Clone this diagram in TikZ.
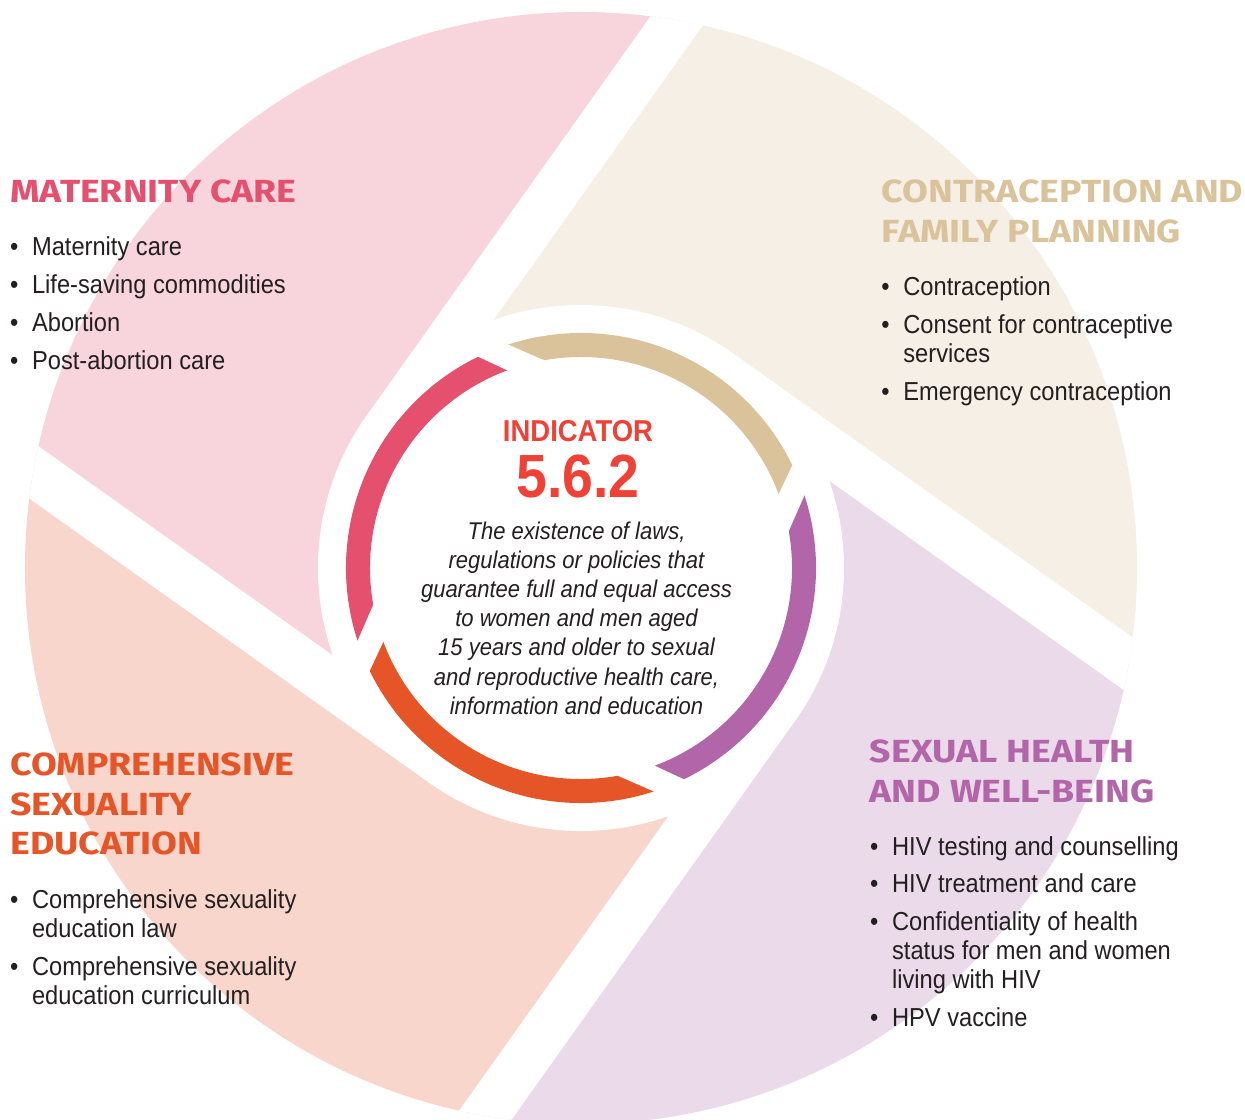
\documentclass[tikz,border=0pt]{standalone}
\usepackage{fontspec}
\setmainfont{Liberation Sans}[FakeStretch=0.91]
\newfontfamily\headfont{Fira Sans}[FakeStretch=1.17]
\usetikzlibrary{calc}
\definecolor{matpink}{HTML}{E5506F}
\definecolor{conbeige}{HTML}{DAC39A}
\definecolor{sexpurple}{HTML}{B266A9}
\definecolor{cseorange}{HTML}{E55527}
\definecolor{matlight}{HTML}{F8D4DD}
\definecolor{conlight}{HTML}{F5EFE5}
\definecolor{sexlight}{HTML}{EBDAEA}
\definecolor{cselight}{HTML}{F8D6CB}
\definecolor{indred}{HTML}{EF4136}
\definecolor{ink}{HTML}{231F20}
\newcommand{\itm}{\makebox[11pt][l]{\textbullet}}
\begin{document}
\begin{tikzpicture}[x=0.5pt,y=0.5pt,
  ttl/.style={anchor=base west,inner sep=0pt,font=\headfont\bfseries\fontsize{16}{19.75}\selectfont},
  lst/.style={anchor=base west,inner sep=0pt,text=ink,font=\fontsize{13}{14.6}\selectfont}]
\useasboundingbox (-581,-551) rectangle (664,568);
% pinwheel segments
\begin{scope}
\clip (0,0) circle[radius=556];
\foreach \a/\c in {144.6/matlight,54.6/conlight,-35.4/sexlight,-125.4/cselight}
  \fill[\c] (0,0) -- (\a:239) -- ++(\a-90:700) -- (\a-26.1:1000)
    -- ($(\a+90:239)+(\a:700)$) -- (\a+90:239) -- cycle;
\foreach \a in {144.6,54.6,-35.4,-125.4}
  \draw[white,line width=24pt] (\a:239) -- ++(\a-90:700);
\end{scope}
\fill[white] (0,0) circle[radius=263];
% inner ring
\foreach \a/\c in {0/conbeige,90/matpink,180/cseorange,270/sexpurple}
  \fill[\c] (\a+26:235) arc[start angle=\a+26,end angle=\a+108,radius=235]
    -- (\a+100:211) arc[start angle=\a+100,end angle=\a+20.5,radius=211] -- cycle;
% centre
\node[anchor=base,inner sep=0pt,text=indred,font=\bfseries\fontsize{15.1}{18}\selectfont] (ind) at (-3,127) {INDICATOR};
\node[anchor=base,inner sep=0pt,text=indred,font=\bfseries\fontsize{30.5}{34}\selectfont] (num) at (-3,70.7) {5.6.2};
\node[anchor=base,inner sep=0pt,text=ink,font=\itshape\fontsize{12.1}{14.55}\selectfont] (desc) at (-4.5,28.5)
  {\begin{tabular}[t]{@{}c@{}}The existence of laws,\\regulations or policies that\\guarantee full and equal access\\to women and men aged\\15 years and older to sexual\\and reproductive health care,\\information and education\end{tabular}};
% maternity care
\node[ttl,text=matpink] (matT) at (-571,365.3) {MATERNITY CARE};
\node[lst] (matL) at (-571.3,312) {\begin{tabular}[t]{@{}l@{}l@{}}
  \itm&Maternity care\\[4.25pt] \itm&Life-saving commodities\\[4.25pt]
  \itm&Abortion\\[4.25pt] \itm&Post-abortion care\end{tabular}};
% contraception
\node[ttl,text=conbeige] (conT) at (300.5,365) {\begin{tabular}[t]{@{}l@{}}CONTRACEPTION AND\\FAMILY PLANNING\end{tabular}};
\node[lst] (conL) at (300,272) {\begin{tabular}[t]{@{}l@{}l@{}}
  \itm&Contraception\\[4.25pt] \itm&Consent for contraceptive\\&services\\[4.25pt]
  \itm&Emergency contraception\end{tabular}};
% sexual health
\node[ttl,text=sexpurple] (sexT) at (288.5,-194.7) {\begin{tabular}[t]{@{}l@{}}SEXUAL HEALTH\\AND WELL-BEING\end{tabular}};
\node[lst] (sexL) at (288.7,-287) {\begin{tabular}[t]{@{}l@{}l@{}}
  \itm&HIV testing and counselling\\[4.25pt] \itm&HIV treatment and care\\[4.25pt]
  \itm&Confidentiality of health\\&status for men and women\\&living with HIV\\[4.25pt]
  \itm&HPV vaccine\end{tabular}};
% comprehensive sexuality education
\node[ttl,text=cseorange] (cseT) at (-571,-207.7) {\begin{tabular}[t]{@{}l@{}}COMPREHENSIVE\\SEXUALITY\\EDUCATION\end{tabular}};
\node[lst] (cseL) at (-571.3,-340.3) {\begin{tabular}[t]{@{}l@{}l@{}}
  \itm&Comprehensive sexuality\\&education law\\[4.25pt]
  \itm&Comprehensive sexuality\\&education curriculum\end{tabular}};
\end{tikzpicture}
\end{document}
